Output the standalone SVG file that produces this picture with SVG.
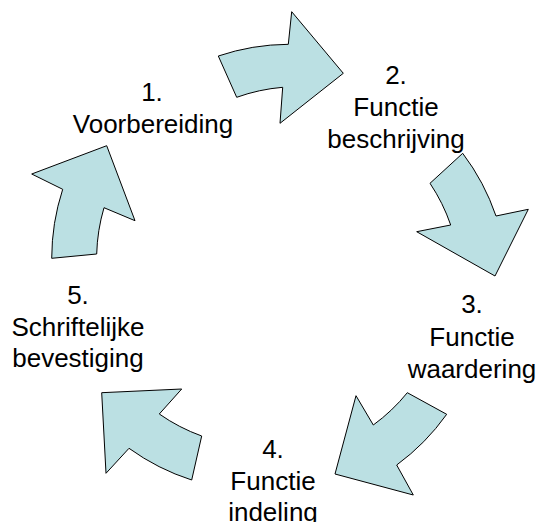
<svg xmlns="http://www.w3.org/2000/svg" width="537" height="522" viewBox="0 0 537 522">
<style>
.arrow{fill:#BBE0E3;stroke:#000;stroke-width:1;stroke-linejoin:miter}
.lbl{font-family:"Liberation Sans",Arial,sans-serif;font-size:26px;fill:#000;text-anchor:middle}
</style>
<rect width="537" height="522" fill="#fff"/>
<g id="connectors">
<path class="arrow" d="M218.3,56 A224,224 0 0 1 288.3,44.3 L291.7,11.7 L343.3,73.3 L280,123.3 L282.7,87.3 A180,180 0 0 0 236.7,97.3 Z"/>
<path class="arrow" d="M462.7,153.3 A224,224 0 0 1 496,216 L528.3,209.3 L495,276 L416.7,231.7 L450.7,225 A180,180 0 0 0 430,183.3 Z"/>
<path class="arrow" d="M446.7,414.3 A224,224 0 0 1 396.7,465 L413.3,495 L335,474 L356,395.7 L373.3,425 A180,180 0 0 0 407.3,392.7 Z"/>
<path class="arrow" d="M191.7,480 A224,224 0 0 1 129,448.3 L106,473.3 L101.7,392.7 L181.7,389 L159.3,414 A180,180 0 0 0 201.7,436 Z"/>
<path class="arrow" d="M51.7,258.3 A224,224 0 0 1 62.7,189.3 L31.7,174 L106.7,145.7 L135,220.7 L104,207.7 A180,180 0 0 0 96.7,254 Z"/>
</g>
<g id="node1">
<text class="lbl" x="152" y="101">1.</text>
<text class="lbl" x="153" y="133">Voorbereiding</text>
</g>
<g id="node2">
<text class="lbl" x="396" y="84">2.</text>
<text class="lbl" x="396" y="116">Functie</text>
<text class="lbl" x="396" y="148">beschrijving</text>
</g>
<g id="node3">
<text class="lbl" x="472" y="313">3.</text>
<text class="lbl" x="472" y="346">Functie</text>
<text class="lbl" x="472" y="378">waardering</text>
</g>
<g id="node4">
<text class="lbl" x="273" y="458">4.</text>
<text class="lbl" x="273" y="490">Functie</text>
<text class="lbl" x="273" y="521">indeling</text>
</g>
<g id="node5">
<text class="lbl" x="78" y="304">5.</text>
<text class="lbl" x="78" y="336">Schriftelijke</text>
<text class="lbl" x="78" y="367">bevestiging</text>
</g>
</svg>
